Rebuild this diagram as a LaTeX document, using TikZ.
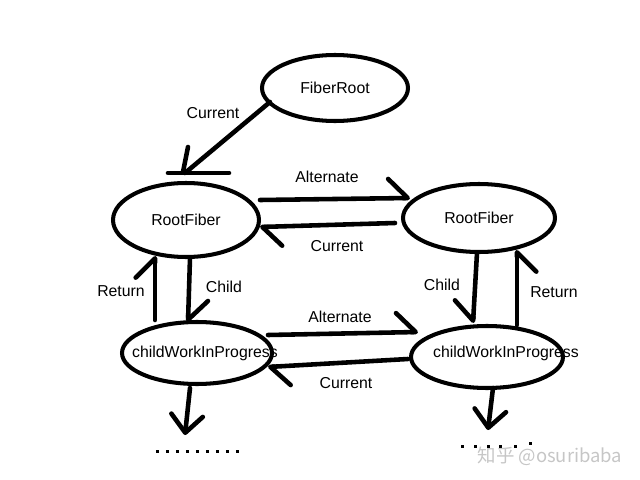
\documentclass[tikz,border=0pt]{standalone}
\usepackage{fontspec}
\setmainfont{Liberation Sans}
\newfontfamily\cjkfont{Noto Sans CJK SC}
\usetikzlibrary{arrows.meta,shapes.geometric}

\tikzset{
	state/.style={ellipse, draw, line width=2.3pt, inner sep=0pt, font=\fontsize{9}{11}\selectfont},
	edge/.style={line width=2.6pt, line cap=round},
	harpL/.style={-{Straight Barb[harpoon, round, length=11pt, width=22pt]}},
	harpR/.style={-{Straight Barb[harpoon, swap, round, length=11pt, width=22pt]}},
	downarr/.style={-{Straight Barb[round, length=10pt, width=18pt]}},
	lbl/.style={font=\fontsize{9}{11}\selectfont},
}

\begin{document}
\begin{tikzpicture}[x=0.02cm, y=-0.02cm]
		\useasboundingbox (0,0) rectangle (640,480);

		% fibers
		\node[state, minimum width=2.92cm, minimum height=1.32cm] (root) at (335,88) {FiberRoot};
		\node[state, minimum width=2.92cm, minimum height=1.48cm] (cur) at (186,220) {RootFiber};
		\node[state, minimum width=3.04cm, minimum height=1.36cm] (alt) at (479,218) {RootFiber};
		\node[state, minimum width=3.0cm, minimum height=1.24cm,
			label={[lbl, xshift=4.5pt]center:childWorkInProgress}] (curChild) at (197,353) {};
		\node[state, minimum width=3.04cm, minimum height=1.24cm,
			label={[lbl, xshift=10.8pt, yshift=2.3pt]center:childWorkInProgress}] (altChild) at (487,357) {};

		% FiberRoot -> current tree
		\coordinate (bar) at ([shift={(-1,-47)}]cur.center);
		\draw[edge] ([shift={(-65,14)}]root.center) -- (bar);
		\draw[edge] ([shift={(-17,0)}]bar) -- ([shift={(44,0)}]bar);
		\draw[edge] ([shift={(3,-26)}]bar) -- ([shift={(-2,-1)}]bar);
		\node[lbl] (lRoot) at (213,113) {Current};

		% alternate / current between the roots
		\draw[edge, harpL] ([shift={(74,-20)}]cur.center) -- ([shift={(-69,-20)}]alt.center);
		\node[lbl] (lAlt1) at (327,177) {Alternate};
		\draw[edge, harpL] ([shift={(-84,5)}]alt.center) -- ([shift={(74,7)}]cur.center);
		\node[lbl] (lCur1) at (337,246) {Current};

		% child / return, left
		\draw[edge, harpL] ([shift={(-42,-33)}]curChild.center) -- ([shift={(-31,36)}]cur.center);
		\node[lbl] (lRet1) at (121,291) {Return};
		\draw[edge, harpL] ([shift={(4,38)}]cur.center) -- ([shift={(-9,-31)}]curChild.center);
		\node[lbl] (lChild1) at (224,287) {Child};

		% child / return, right
		\draw[edge, harpR] ([shift={(-2,35)}]alt.center) -- ([shift={(-14,-34)}]altChild.center);
		\node[lbl] (lChild2) at (442,285) {Child};
		\draw[edge, harpR] ([shift={(30,-32)}]altChild.center) -- ([shift={(38,32)}]alt.center);
		\node[lbl] (lRet2) at (554,292) {Return};

		% alternate / current between the children
		\draw[edge, harpL] ([shift={(71,-18)}]curChild.center) -- ([shift={(-69,-25)}]altChild.center);
		\node[lbl] (lAlt2) at (340,317) {Alternate};
		\draw[edge, harpL] ([shift={(-79,2)}]altChild.center) -- ([shift={(71,14)}]curChild.center);
		\node[lbl] (lCur2) at (346,383) {Current};

		% further down
		\coordinate (more1) at (197,451);
		\coordinate (more2) at (495,446);
		\draw[edge, downarr] ([shift={(-7,35)}]curChild.center) -- ([shift={(-12,-16)}]more1);
		\draw[edge, downarr] ([shift={(6,31)}]altChild.center) -- ([shift={(-7,-16)}]more2);
		\foreach \dx in {-40,-30,...,40}
			\fill ([shift={(\dx-1.5,-1.5)}]more1) rectangle +(3,3);
		\foreach \dx/\dy in {-33/0,-20/0,-7/0,5/0,20/0,35/-3}
			\fill ([shift={(\dx-1.5,\dy-1.5)}]more2) rectangle +(3,3);

		% watermark
		\node[text=gray!45, font=\cjkfont\fontsize{10.5}{12}\selectfont] (mark) at (550,456) {知乎 @osuribaba};
\end{tikzpicture}
\end{document}
